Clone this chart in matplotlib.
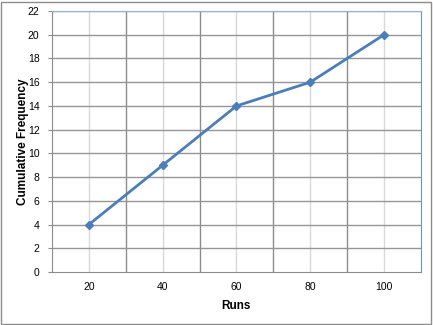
import matplotlib
matplotlib.use("Agg")
import matplotlib.pyplot as plt
from matplotlib.patches import Rectangle

# ── Données ──────────────────────────────────────────────────────────────────
runs = ["20", "40", "60", "80", "100"]
cum_freq = [4, 9, 14, 16, 20]
y_ticks = list(range(0, 23, 2))

plt.rcParams['font.family'] = ['Liberation Sans', 'DejaVu Sans']

fig = plt.figure(figsize=(4.33, 3.25), dpi=100)
ax = fig.add_axes([0.120, 0.163, 0.852, 0.803])

x = list(range(len(runs)))
ax.set_xlim(-0.5, len(runs) - 0.5)
ax.set_ylim(0, 22)

# grille façon Excel : lignes aux centres (claires) et aux limites (foncées)
for xi in x:
    ax.axvline(xi, color='#d9d9d9', lw=1.0, zorder=0)
for xb in [i + 0.5 for i in x[:-1]]:
    ax.axvline(xb, color='#8c8c8c', lw=1.0, zorder=0)
for yt in y_ticks[1:]:
    ax.axhline(yt, color='#969696', lw=1.0, zorder=0)

ax.plot(x, cum_freq, color='#4a7ebb', lw=2.0, marker='D', markersize=4.5, zorder=3)

ax.set_xticks(x)
ax.set_xticklabels(runs, fontsize=7.5)
ax.set_yticks(y_ticks)
ax.tick_params(axis='y', labelsize=7.5, length=3, color='#8c8c8c', pad=6)
ax.tick_params(axis='x', length=0, pad=7)

ax.spines['left'].set_color('#8c8c8c')
ax.spines['bottom'].set_color('#8c8c8c')
ax.spines['top'].set_color('#8eb4e3')
ax.spines['right'].set_color('#6a96cf')

ax.set_xlabel("Runs", fontsize=8.5, fontweight='bold', labelpad=6)
ax.set_ylabel("Cumulative Frequency", fontsize=8.5, fontweight='bold', labelpad=-1)

# cadre de la figure
fig.patches.append(Rectangle((0.003, 0.004), 0.993, 0.991, transform=fig.transFigure,
                             fill=False, edgecolor='#8c8c8c', lw=1.0))

fig.savefig("out.png", dpi=100)
